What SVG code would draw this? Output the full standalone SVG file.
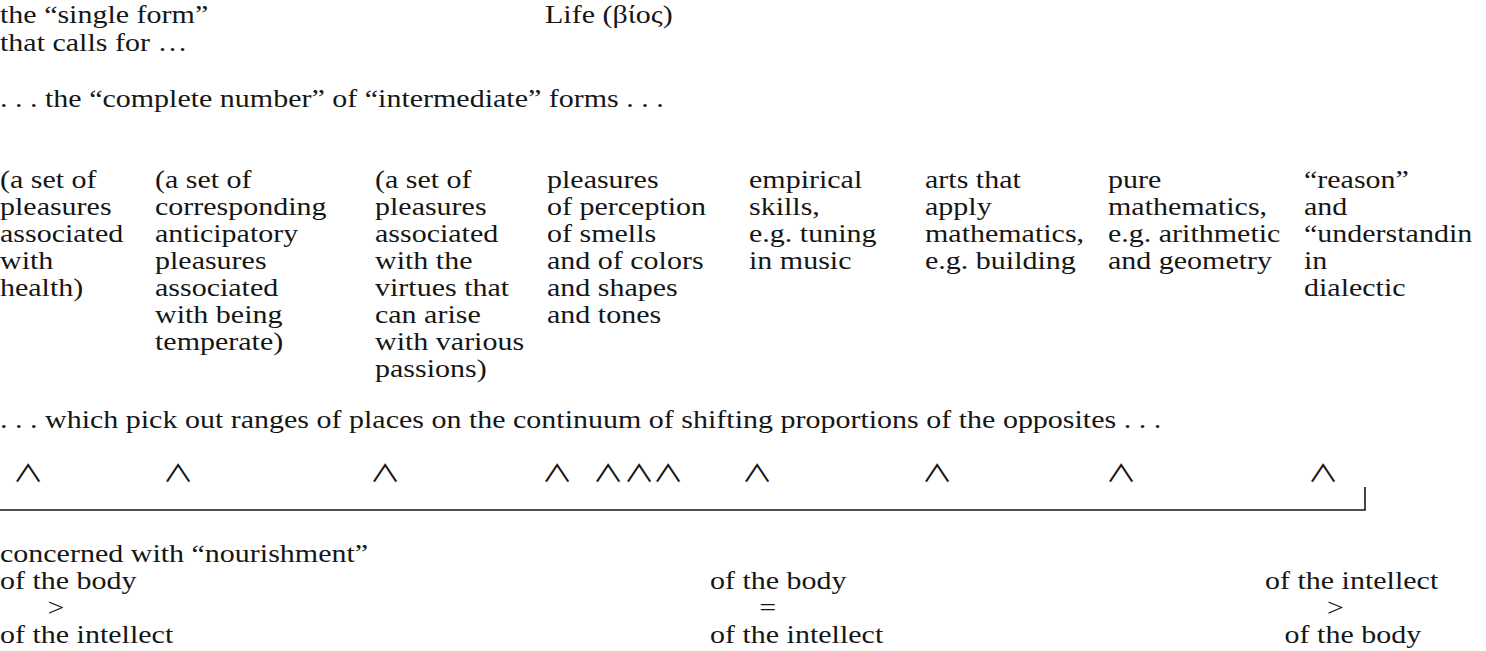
<svg xmlns="http://www.w3.org/2000/svg" width="1486" height="651" viewBox="0 0 1486 651">
<style>
text{font-family:"Liberation Serif","DejaVu Serif",serif;font-size:26px;fill:#161616}
.car{font-family:"Noto Sans CJK JP","DejaVu Sans",sans-serif;font-size:24px;text-anchor:middle}
.sym{text-anchor:middle}
</style>
<rect width="1486" height="651" fill="#fff"/>
<g id="single-form" transform="translate(0,0) scale(1.154,1)">
<text x="0" y="23">the “single form”</text>
<text x="0" y="51">that calls for …</text>
</g>
<g id="life" transform="translate(545,0) scale(1.154,1)">
<text x="0" y="23">Life (βίος)</text>
</g>
<g id="intermediate" transform="translate(0,0) scale(1.154,1)">
<text x="0" y="107">. . . the “complete number” of “intermediate” forms . . .</text>
</g>
<g id="col1" transform="translate(0,0) scale(1.154,1)">
<text x="0" y="188">(a set of</text><text x="0" y="215">pleasures</text><text x="0" y="242">associated</text><text x="0" y="269">with</text><text x="0" y="296">health)</text>
</g>
<g id="col2" transform="translate(155,0) scale(1.154,1)">
<text x="0" y="188">(a set of</text><text x="0" y="215">corresponding</text><text x="0" y="242">anticipatory</text><text x="0" y="269">pleasures</text><text x="0" y="296">associated</text><text x="0" y="323">with being</text><text x="0" y="350">temperate)</text>
</g>
<g id="col3" transform="translate(375,0) scale(1.154,1)">
<text x="0" y="188">(a set of</text><text x="0" y="215">pleasures</text><text x="0" y="242">associated</text><text x="0" y="269">with the</text><text x="0" y="296">virtues that</text><text x="0" y="323">can arise</text><text x="0" y="350">with various</text><text x="0" y="377">passions)</text>
</g>
<g id="col4" transform="translate(547,0) scale(1.154,1)">
<text x="0" y="188">pleasures</text><text x="0" y="215">of perception</text><text x="0" y="242">of smells</text><text x="0" y="269">and of colors</text><text x="0" y="296">and shapes</text><text x="0" y="323">and tones</text>
</g>
<g id="col5" transform="translate(749,0) scale(1.154,1)">
<text x="0" y="188">empirical</text><text x="0" y="215">skills,</text><text x="0" y="242">e.g. tuning</text><text x="0" y="269">in music</text>
</g>
<g id="col6" transform="translate(925,0) scale(1.154,1)">
<text x="0" y="188">arts that</text><text x="0" y="215">apply</text><text x="0" y="242">mathematics,</text><text x="0" y="269">e.g. building</text>
</g>
<g id="col7" transform="translate(1108,0) scale(1.154,1)">
<text x="0" y="188">pure</text><text x="0" y="215">mathematics,</text><text x="0" y="242">e.g. arithmetic</text><text x="0" y="269">and geometry</text>
</g>
<g id="col8" transform="translate(1304,0) scale(1.154,1)">
<text x="0" y="188">“reason”</text><text x="0" y="215">and</text><text x="0" y="242">“understandin</text><text x="0" y="269">in</text><text x="0" y="296">dialectic</text>
</g>
<g id="ranges" transform="translate(0,0) scale(1.154,1)">
<text x="0" y="428">. . . which pick out ranges of places on the continuum of shifting proportions of the opposites . . .</text>
</g>
<g id="continuum">
<text class="car" transform="translate(28,482) scale(1.3,1)">∧</text>
<text class="car" transform="translate(178,482) scale(1.3,1)">∧</text>
<text class="car" transform="translate(385,482) scale(1.3,1)">∧</text>
<text class="car" transform="translate(557,482) scale(1.3,1)">∧</text>
<text class="car" transform="translate(608,482) scale(1.3,1)">∧</text>
<text class="car" transform="translate(639,482) scale(1.3,1)">∧</text>
<text class="car" transform="translate(668,482) scale(1.3,1)">∧</text>
<text class="car" transform="translate(757,482) scale(1.3,1)">∧</text>
<text class="car" transform="translate(937,482) scale(1.3,1)">∧</text>
<text class="car" transform="translate(1121,482) scale(1.3,1)">∧</text>
<text class="car" transform="translate(1323,482) scale(1.3,1)">∧</text>
<path d="M0 510H1365M1365 487V510.8" fill="none" stroke="#161616" stroke-width="1.6"/>
</g>
<g id="body-over" transform="translate(0,0) scale(1.154,1)">
<text x="0" y="562">concerned with “nourishment”</text>
<text x="0" y="589">of the body</text>
<text class="sym" x="48.5" y="616">&gt;</text>
<text x="0" y="643">of the intellect</text>
</g>
<g id="equal" transform="translate(710,0) scale(1.154,1)">
<text x="0" y="589">of the body</text>
<text class="sym" x="50" y="616">=</text>
<text x="0" y="643">of the intellect</text>
</g>
<g id="intellect-over" transform="translate(1265,0) scale(1.154,1)">
<text x="0" y="589">of the intellect</text>
<text class="sym" x="61" y="616">&gt;</text>
<text x="17" y="643">of the body</text>
</g>
</svg>
